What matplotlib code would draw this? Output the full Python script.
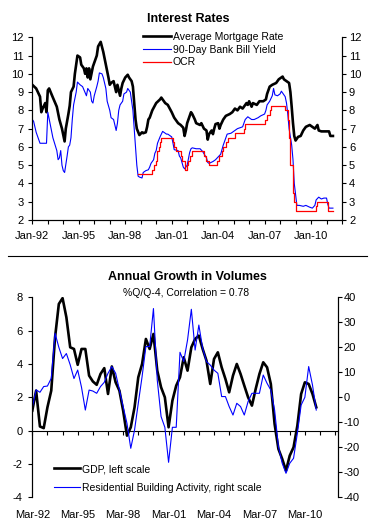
import matplotlib
matplotlib.use('Agg')
import matplotlib.pyplot as plt
import matplotlib.dates as mdates
from matplotlib.lines import Line2D
import pandas as pd

plt.rcParams['font.family'] = ['Liberation Sans', 'DejaVu Sans']
plt.rcParams['font.size'] = 8
plt.rcParams['axes.unicode_minus'] = False

# ---- Interest rates: months since Jan-1992 and values (%)
mort_m = [0, 3, 6, 7, 8, 10, 11, 12, 13, 16, 19, 21, 23, 25, 26, 28, 29, 30, 32, 33,
          35, 37, 38, 40, 41, 42, 43, 44, 45, 47, 50, 51, 53, 55, 57, 59, 60, 61, 63, 64,
          65, 66, 68, 69, 70, 72, 74, 75, 77, 78, 79, 80, 81, 83, 85, 86, 88, 89, 90, 91,
          93, 96, 99, 100, 103, 105, 108, 110, 113, 115, 117, 118, 119, 120, 122, 123, 124, 126, 127, 130,
          131, 133, 135, 136, 137, 139, 140, 141, 142, 144, 145, 146, 148, 150, 153, 155, 157, 159, 161, 163,
          166, 167, 168, 170, 171, 174, 176, 179, 181, 182, 184, 186, 189, 191, 194, 195, 197, 199, 200, 201,
          202, 203, 204, 206, 208, 210, 212, 215, 217, 219, 221, 222, 224, 228, 230, 231, 233]
mort_v = [9.4, 9.2, 8.75, 7.9, 8.1, 8.4, 7.9, 9.1, 9.2, 8.7, 8.2, 7.5, 7.0, 6.3, 7.0, 7.8, 8.25, 9.0, 9.3, 10.0,
          11.0, 10.9, 10.5, 10.3, 10.0, 10.3, 9.8, 10.3, 9.7, 10.4, 11.0, 11.5, 11.75, 11.2, 10.5, 9.8, 9.4, 9.5, 9.6, 9.3,
          9.0, 9.4, 8.8, 9.2, 9.5, 9.8, 9.95, 9.8, 9.6, 9.3, 8.4, 7.5, 7.0, 6.65, 6.8, 6.75, 6.8, 7.1, 7.5, 7.6,
          8.0, 8.4, 8.6, 8.7, 8.4, 8.3, 7.9, 7.6, 7.3, 7.2, 7.05, 6.6, 6.9, 7.3, 7.7, 7.9, 7.8, 7.5, 7.3, 7.2,
          7.3, 7.0, 6.9, 6.4, 6.7, 6.9, 6.7, 7.0, 7.25, 7.3, 7.0, 7.2, 7.5, 7.7, 7.8, 7.9, 8.1, 8.0, 8.2, 8.1,
          8.4, 8.3, 8.5, 8.2, 8.4, 8.3, 8.5, 8.5, 8.6, 8.9, 9.3, 9.4, 9.5, 9.7, 9.85, 9.7, 9.6, 9.5, 9.0, 8.2,
          7.3, 6.6, 6.35, 6.55, 6.6, 6.9, 7.1, 7.2, 7.1, 7.0, 7.2, 6.9, 6.85, 6.85, 6.85, 6.6, 6.6]

bill_m = [0, 1, 3, 6, 8, 11, 12, 14, 16, 19, 20, 21, 22, 23, 24, 25, 27, 28, 29, 30,
          31, 32, 34, 35, 37, 39, 42, 43, 45, 46, 47, 48, 50, 51, 52, 54, 55, 57, 58, 60,
          61, 63, 64, 65, 66, 67, 68, 70, 71, 73, 74, 76, 77, 78, 79, 80, 81, 82, 83, 85,
          86, 87, 88, 90, 91, 92, 94, 95, 96, 97, 99, 101, 103, 104, 105, 106, 108, 109, 110, 113,
          114, 115, 117, 118, 120, 122, 123, 124, 127, 130, 132, 135, 136, 137, 140, 142, 144, 146, 148, 150,
          151, 154, 157, 159, 161, 163, 165, 167, 170, 172, 175, 177, 180, 181, 182, 184, 186, 187, 188, 190,
          192, 193, 195, 196, 197, 198, 199, 201, 202, 203, 204, 205, 207, 210, 212, 215, 217, 219, 220, 222,
          224, 226, 228, 229, 230, 233]
bill_v = [7.5, 7.4, 6.8, 6.2, 6.2, 6.2, 7.9, 7.2, 6.5, 5.8, 5.3, 5.4, 5.8, 5.0, 4.7, 4.6, 5.5, 6.0, 6.1, 6.5,
          7.5, 8.3, 9.0, 9.55, 9.4, 9.3, 8.8, 9.2, 9.0, 8.5, 8.4, 8.8, 9.3, 9.6, 10.05, 10.0, 9.8, 9.2, 8.5, 8.0,
          7.6, 7.5, 7.2, 6.9, 7.3, 8.0, 8.3, 8.5, 8.9, 9.0, 9.2, 9.0, 8.5, 8.0, 7.0, 6.0, 5.0, 4.4, 4.35, 4.3,
          4.6, 4.65, 4.7, 4.75, 4.9, 5.1, 5.3, 5.65, 5.8, 6.2, 6.55, 6.85, 6.75, 6.7, 6.7, 6.65, 6.55, 6.2, 5.85, 5.8,
          5.5, 5.4, 4.9, 4.8, 5.0, 5.7, 5.9, 5.95, 5.9, 5.9, 5.75, 5.4, 5.15, 5.1, 5.2, 5.3, 5.45, 5.6, 6.1, 6.5,
          6.7, 6.75, 6.9, 7.0, 7.05, 7.1, 7.5, 7.65, 7.5, 7.5, 7.6, 7.7, 7.8, 8.0, 8.3, 8.5, 8.8, 9.2, 8.85, 8.8,
          8.9, 9.05, 8.85, 8.75, 8.4, 7.8, 7.0, 6.1, 5.3, 4.0, 3.4, 2.8, 2.8, 2.75, 2.8, 2.7, 2.65, 2.8, 3.1, 3.25,
          3.15, 3.2, 3.2, 2.85, 2.65, 2.65]

ocr_m = [82, 93, 94, 96, 97, 98, 99, 100, 109, 110, 111, 115, 116, 118, 120, 121, 122, 124, 133, 135,
         137, 143, 145, 147, 148, 150, 152, 157, 164, 165, 180, 182, 184, 185, 196, 198, 199, 200, 202, 203,
         204, 220, 221, 229, 233]
ocr_v = [4.5, 4.75, 5.0, 5.25, 5.75, 6.0, 6.25, 6.5, 6.25, 6.0, 5.75, 5.5, 5.25, 4.75, 5.0, 5.25, 5.5, 5.75, 5.5, 5.25,
         5.0, 5.25, 5.5, 5.75, 6.0, 6.25, 6.5, 6.75, 7.0, 7.25, 7.5, 7.75, 8.0, 8.25, 8.0, 7.5, 6.5, 5.0, 3.5, 3.0,
         2.5, 2.75, 3.0, 2.5, 2.5]

# ---- Annual growth in volumes, quarterly Mar-92 .. Dec-10
gdp = [1.2, 2.4, 0.25, 0.15, 1.4, 2.4, 5.6, 7.6, 7.95, 6.8, 5.0, 4.9, 3.95, 4.9, 4.9, 3.3, 2.95, 2.75, 3.4, 3.75,
       2.2, 3.85, 2.9, 2.4, 1.2, -0.3, 0.2, 1.4, 3.2, 4.0, 5.5, 4.9, 5.8, 3.6, 2.6, 2.0, 0.2, 1.8, 2.7, 3.2,
       4.4, 3.6, 5.0, 5.5, 5.7, 4.9, 4.2, 2.8, 4.3, 4.7, 3.8, 3.1, 2.3, 3.3, 4.0, 3.4, 2.7, 2.0, 1.5, 2.5,
       3.4, 4.1, 3.8, 2.8, 0.4, -1.1, -1.7, -2.4, -1.5, -1.0, 0.3, 2.2, 2.9, 2.8, 2.2, 1.4]
rba = [-4, 3.0, 2.0, 4.3, 4.5, 7.6, 25.6, 20.0, 15.5, 17.5, 13.0, 7.5, 10.9, 4.0, -5.1, 2.9, 2.5, 1.6, 4.3, 6.0,
       9.6, 12.3, 9.6, 3.0, -3.7, -10.4, -20.4, -13.1, -2.4, 8.3, 20.3, 20.3, 35.5, 6.9, -7.7, -12, -26, -12, -12, 18,
       14.3, 22.9, 35.2, 18.9, 28.9, 19.6, 14.3, 12.9, 10.9, 9.6, 0.3, 0.3, -3.7, -7.1, -2.4, -3.7, -7.1, -1.7, 1.6, 1.6,
       1.6, 8.9, 5.6, 2.9, -5.1, -19.7, -26.4, -30.4, -26.4, -24.4, -14.4, -3.1, 0.0, 12.3, 4.9, -5.1]


def months_to_dates(ms):
    return [pd.Timestamp(1992 + m // 12, m % 12 + 1, 1) for m in ms]


W, H = 375, 527
fig = plt.figure(figsize=(W / 100, H / 100), dpi=100)

# ---------------- top chart
ax1 = fig.add_axes([32.3 / W, 1 - 220 / H, (342 - 32.3) / W, (220 - 37.3) / H])
ax1.plot(months_to_dates(mort_m), mort_v, color='black', lw=1.9, label='Average Mortgage Rate')
ax1.plot(months_to_dates(bill_m), bill_v, color='#0000ff', lw=0.8, label='90-Day Bank Bill Yield')
ax1.plot(months_to_dates(ocr_m), ocr_v, color='#ff0000', lw=0.9, drawstyle='steps-post', label='OCR')
ax1.set_xlim(pd.Timestamp('1992-01-01'), pd.Timestamp('2012-01-01'))
ax1.set_ylim(2, 12)
ax1.set_yticks(range(2, 13))
ax1.xaxis.set_major_locator(mdates.YearLocator(3, month=1))
ax1.xaxis.set_minor_locator(mdates.YearLocator(1, month=1))
ax1.xaxis.set_major_formatter(mdates.DateFormatter('%b-%y'))
ax1.spines['top'].set_visible(False)
ax1.tick_params(which='both', direction='out', length=3, width=0.8)
ax1.tick_params(axis='y', pad=3)
ax1.tick_params(axis='x', pad=5)

ax1r = ax1.twinx()
ax1r.set_ylim(2, 12)
ax1r.set_yticks(range(2, 13))
ax1r.spines['top'].set_visible(False)
ax1r.tick_params(direction='out', length=3, width=0.8, pad=2)

h1, l1 = ax1.get_legend_handles_labels()
fig.legend(h1, l1, loc='upper left', bbox_to_anchor=(143 / W, 1 - 32 / H),
           bbox_transform=fig.transFigure, frameon=False, fontsize=7.5,
           handlelength=2.7, handletextpad=0.15, labelspacing=0.25,
           borderpad=0, borderaxespad=0)

fig.text(188 / W, 1 - 19.5 / H, 'Interest Rates', ha='center', va='center',
         fontsize=9, fontweight='bold')

# separator
fig.add_artist(Line2D([8 / W, 367 / W], [1 - 256 / H, 1 - 256 / H], color='black',
                      lw=0.8, transform=fig.transFigure))

# ---------------- bottom chart
qdates = pd.date_range('1992-03-01', periods=len(gdp), freq='3MS')

ax2 = fig.add_axes([32.3 / W, 1 - 497.3 / H, 305.4 / W, 200 / H])
ax2.plot(qdates, gdp, color='black', lw=1.9, label='GDP, left scale')
ax2.set_ylim(-4, 8)
ax2.set_yticks(range(-4, 9, 2))
ax2.set_xlim(pd.Timestamp('1992-03-01'), pd.Timestamp('2012-05-01'))
ax2.spines['top'].set_visible(False)
ax2.spines['bottom'].set_position(('data', 0))
ax2.xaxis.set_major_locator(mdates.YearLocator(3, month=3))
ax2.xaxis.set_minor_locator(mdates.YearLocator(1, month=3))
ax2.tick_params(which='both', direction='out', length=3, width=0.8)
ax2.tick_params(axis='x', which='both', labelbottom=False)
ax2.tick_params(axis='y', pad=4)

sec = ax2.secondary_xaxis('bottom')
sec.spines['bottom'].set_visible(False)
sec.xaxis.set_major_locator(mdates.YearLocator(3, month=3))
sec.xaxis.set_major_formatter(mdates.DateFormatter('%b-%y'))
sec.tick_params(length=0, pad=9)

ax2r = ax2.twinx()
ax2r.plot(qdates, rba, color='#0000ff', lw=0.8, label='Residential Building Activity, right scale')
ax2r.set_ylim(-40, 40)
ax2r.set_yticks(range(-40, 41, 10))
for s in ('top', 'bottom'):
    ax2r.spines[s].set_visible(False)
ax2r.tick_params(direction='out', length=3, width=0.8, pad=1)

h2, l2 = ax2.get_legend_handles_labels()
h3, l3 = ax2r.get_legend_handles_labels()
fig.legend(h2 + h3, l2 + l3, loc='upper left', bbox_to_anchor=(54 / W, 1 - 464 / H),
           bbox_transform=fig.transFigure, frameon=False, fontsize=7.5,
           handlelength=2.5, handletextpad=0.15, labelspacing=0.85,
           borderpad=0, borderaxespad=0)

fig.text(187 / W, 1 - 277.5 / H, 'Annual Growth in Volumes', ha='center', va='center',
         fontsize=9, fontweight='bold')
fig.text(186 / W, 1 - 293.5 / H, '%Q/Q-4, Correlation = 0.78', ha='center', va='center',
         fontsize=7.5)

fig.savefig('out.png', dpi=100)
